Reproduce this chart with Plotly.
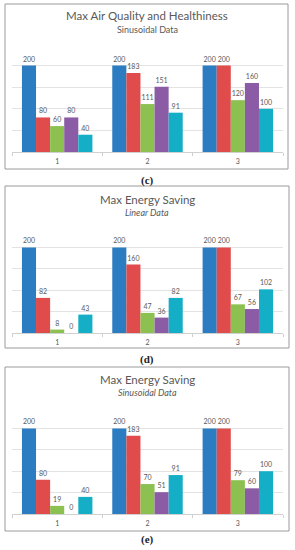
import plotly.graph_objects as go

W, H = 295, 550

categories = ["1", "2", "3"]
series_names = ["S1", "S2", "S3", "S4", "S5"]
colors = ["#2B7CC1", "#E04B4B", "#8CC152", "#8B5CA5", "#14AFC6"]

# (c) Max Air Quality and Healthiness - Sinusoidal Data
c_s1 = [200, 200, 200]
c_s2 = [80, 183, 200]
c_s3 = [60, 111, 120]
c_s4 = [80, 151, 160]
c_s5 = [40, 91, 100]

# (d) Max Energy Saving - Linear Data
d_s1 = [200, 200, 200]
d_s2 = [82, 160, 200]
d_s3 = [8, 47, 67]
d_s4 = [0, 36, 56]
d_s5 = [43, 82, 102]

# (e) Max Energy Saving - Sinusoidal Data
e_s1 = [200, 200, 200]
e_s2 = [80, 183, 200]
e_s3 = [19, 70, 79]
e_s4 = [0, 51, 60]
e_s5 = [40, 91, 100]

titles = ["Max Air Quality and Healthiness", "Max Energy Saving", "Max Energy Saving"]
subtitles = ["Sinusoidal Data", "<i>Linear Data</i>", "<i>Sinusoidal Data</i>"]
captions = ["(c)", "(d)", "(e)"]

panels = [
    [c_s1, c_s2, c_s3, c_s4, c_s5],
    [d_s1, d_s2, d_s3, d_s4, d_s5],
    [e_s1, e_s2, e_s3, e_s4, e_s5],
]

# layout geometry in pixels
plot_x = (12, 283)
plot_y = [(44, 152), (226, 333), (407, 514)]  # top(250), bottom(0)
frames = [(5, 4, 288, 169), (5, 186, 289, 348), (5, 367, 289, 531)]
title_y = [16, 199, 379]
sub_y = [29, 212, 392]
cap_y = [180, 359, 539]

def px_x(x):
    return x / W

def px_y(y):
    return 1 - y / H

fig = go.Figure()
FONT = "Lato"
GRAY = "#595959"

for p, data in enumerate(panels):
    xa = "x" if p == 0 else f"x{p+1}"
    ya = "y" if p == 0 else f"y{p+1}"
    for s, vals in enumerate(data):
        fig.add_trace(go.Bar(
            x=categories, y=vals, name=series_names[s],
            marker=dict(color=colors[s], line=dict(width=0)),
            text=[str(v) for v in vals], textposition="outside",
            textfont=dict(size=7, color=GRAY, family=FONT),
            cliponaxis=False, constraintext="none",
            xaxis=xa, yaxis=ya, showlegend=False,
        ))
    top, bot = plot_y[p]
    xkey = "xaxis" if p == 0 else f"xaxis{p+1}"
    ykey = "yaxis" if p == 0 else f"yaxis{p+1}"
    fig.update_layout(**{
        xkey: dict(domain=[px_x(plot_x[0]), px_x(plot_x[1])], anchor=ya,
                   type="category", showline=True, linecolor="#D0D0D0", linewidth=1,
                   ticks="outside", tickson="boundaries", ticklen=3, tickcolor="#D0D0D0",
                   ticklabelstandoff=3,
                   tickfont=dict(size=7, color=GRAY, family=FONT), showgrid=False),
        ykey: dict(domain=[px_y(bot), px_y(top)], anchor=xa, range=[0, 250],
                   tickvals=[0, 50, 100, 150, 200, 250], showticklabels=False,
                   showgrid=True, gridcolor="#E3E3E3", gridwidth=1, zeroline=False),
    })
    x0, y0, x1, y1 = frames[p]
    fig.add_shape(type="rect", xref="paper", yref="paper",
                  x0=px_x(x0), x1=px_x(x1), y0=px_y(y1), y1=px_y(y0),
                  line=dict(color="#9A9A9A", width=1), fillcolor="rgba(0,0,0,0)", layer="below")
    fig.add_annotation(xref="paper", yref="paper", x=px_x(147), y=px_y(title_y[p]),
                       text=titles[p], showarrow=False, xanchor="center", yanchor="middle",
                       font=dict(size=11.5, color=GRAY, family=FONT))
    fig.add_annotation(xref="paper", yref="paper", x=px_x(147), y=px_y(sub_y[p]),
                       text=subtitles[p], showarrow=False, xanchor="center", yanchor="middle",
                       font=dict(size=9, color=GRAY, family=FONT))
    fig.add_annotation(xref="paper", yref="paper", x=px_x(147), y=px_y(cap_y[p]),
                       text="<b>" + captions[p] + "</b>", showarrow=False, xanchor="center",
                       yanchor="middle", font=dict(size=11, color="#222222", family="Liberation Serif"))

fig.update_layout(width=W, height=H, margin=dict(l=0, r=0, t=0, b=0),
                  paper_bgcolor="white", plot_bgcolor="white",
                  barmode="group", bargap=0.22, bargroupgap=0)

fig.write_html("out.html", config={"displayModeBar": False},
               post_script="document.body.style.margin='0';document.body.style.overflow='hidden';")
